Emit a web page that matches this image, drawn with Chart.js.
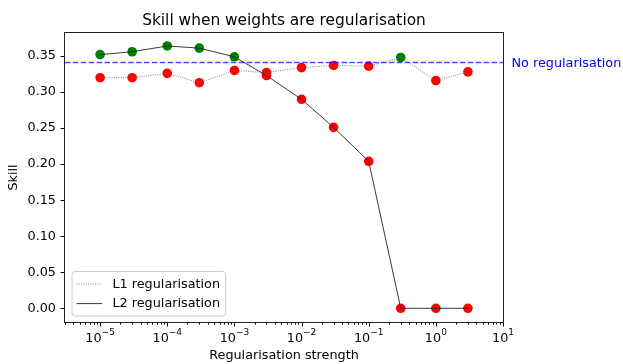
<!DOCTYPE html>
<html>
<head>
<meta charset="utf-8">
<title>Skill when weights are regularisation</title>
<script src="https://cdn.jsdelivr.net/npm/chart.js"></script>
<style>
  body { margin: 0; background: #fff; }
  #wrap { width: 623px; height: 364px; }
</style>
</head>
<body>
<div id="wrap"><canvas id="skillChart" width="623" height="364"></canvas></div>
<script>
// regularisation strengths tried, and the skill scored with each penalty
const strengths = [1e-5, 3e-5, 1e-4, 3e-4, 1e-3, 3e-3, 1e-2, 3e-2, 1e-1, 3e-1, 1, 3];
const l1Skill = [0.320, 0.320, 0.326, 0.313, 0.330, 0.327, 0.334, 0.337, 0.336, 0.348, 0.316, 0.328];
const l2Skill = [0.352, 0.356, 0.364, 0.361, 0.349, 0.323, 0.290, 0.251, 0.204, 0.000, 0.000, 0.000];
const noRegSkill = 0.341;   // skill of the unregularised model
const xRange = [3e-6, 10];
const yTicks = [0, 0.05, 0.10, 0.15, 0.20, 0.25, 0.30, 0.35];
const xTickExponents = [-5, -4, -3, -2, -1, 0, 1];

const FONT = "'DejaVu Sans', sans-serif";
const BASE = 12.8;

const toPoints = ys => strengths.map((x, i) => ({ x: x, y: ys[i] }));
// green when the run beats the unregularised model, red otherwise
const pointColour = ctx => (ctx.raw && ctx.raw.y > noRegSkill) ? '#008000' : '#ff0000';

// frame, tick marks, log labels, title, legend and the baseline label
const decorations = {
  id: 'decorations',
  afterDraw(chart) {
    const ctx = chart.ctx;
    const ca = chart.chartArea;
    const xs = chart.scales.x, ys = chart.scales.y;
    ctx.save();

    // ticks
    ctx.strokeStyle = '#000';
    ctx.lineWidth = 1;
    ctx.beginPath();
    yTicks.forEach(v => {
      const py = Math.round(ys.getPixelForValue(v)) + 0.5;
      ctx.moveTo(ca.left - 4.5, py);
      ctx.lineTo(ca.left, py);
    });
    xTickExponents.forEach(e => {
      const px = Math.round(xs.getPixelForValue(Math.pow(10, e))) + 0.5;
      ctx.moveTo(px, ca.bottom);
      ctx.lineTo(px, ca.bottom + 4.5);
    });
    for (let e = -6; e <= 0; e++) {
      for (let m = 2; m <= 9; m++) {
        const v = m * Math.pow(10, e);
        if (v < xRange[0] || v > xRange[1]) continue;
        const px = Math.round(xs.getPixelForValue(v)) + 0.5;
        ctx.moveTo(px, ca.bottom);
        ctx.lineTo(px, ca.bottom + 2.6);
      }
    }
    ctx.stroke();

    // frame
    ctx.strokeStyle = '#222';
    ctx.strokeRect(Math.round(ca.left) - 0.5, Math.round(ca.top) - 0.5,
                   Math.round(ca.right - ca.left) + 1, Math.round(ca.bottom - ca.top) + 1);

    // x tick labels as 10 with a raised exponent
    ctx.fillStyle = '#000';
    ctx.textBaseline = 'alphabetic';
    ctx.textAlign = 'left';
    xTickExponents.forEach(e => {
      const px = xs.getPixelForValue(Math.pow(10, e));
      const sup = e < 0 ? '\u2212' + (-e) : String(e);
      ctx.font = BASE + 'px ' + FONT;
      const wBase = ctx.measureText('10').width;
      ctx.font = '9px ' + FONT;
      const wSup = ctx.measureText(sup).width;
      const x0 = px - (wBase + wSup) / 2;
      ctx.font = BASE + 'px ' + FONT;
      ctx.fillText('10', x0, 341.5);
      ctx.font = '9px ' + FONT;
      ctx.fillText(sup, x0 + wBase, 335);
    });

    // title
    ctx.font = '15.4px ' + FONT;
    ctx.textAlign = 'center';
    ctx.fillText('Skill when weights are regularisation', (ca.left + ca.right) / 2, 25);

    // label for the dashed reference line
    ctx.font = BASE + 'px ' + FONT;
    ctx.textAlign = 'left';
    ctx.fillStyle = '#0000ff';
    ctx.fillText('No regularisation', ca.right + 8.5, ys.getPixelForValue(noRegSkill) + 4.5);

    // legend, bottom left
    const items = chart.data.datasets.filter(d => d.inLegend);
    ctx.font = BASE + 'px ' + FONT;
    const textW = Math.max(...items.map(d => ctx.measureText(d.label).width));
    const bx = ca.left + 6.5, bw = 5.1 + 25.6 + 10.2 + textW + 5.1;
    const bh = 44.5, by = ca.bottom - 6.5 - bh;
    ctx.beginPath();
    ctx.roundRect(bx + 0.5, by + 0.5, bw, bh, 3);
    ctx.fillStyle = 'rgba(255,255,255,0.8)';
    ctx.fill();
    ctx.strokeStyle = '#cccccc';
    ctx.lineWidth = 1;
    ctx.stroke();
    items.forEach((d, i) => {
      const cy = by + 13 + i * 19.6;
      ctx.beginPath();
      ctx.setLineDash(d.borderDash || []);
      ctx.strokeStyle = d.borderColor;
      ctx.lineWidth = d.borderWidth;
      ctx.moveTo(bx + 5.1, cy);
      ctx.lineTo(bx + 5.1 + 25.6, cy);
      ctx.stroke();
      ctx.setLineDash([]);
      ctx.fillStyle = '#000';
      ctx.textBaseline = 'middle';
      ctx.fillText(d.label, bx + 5.1 + 25.6 + 10.2, cy + 0.5);
    });

    ctx.restore();
  }
};

new Chart(document.getElementById('skillChart'), {
  type: 'line',
  data: {
    datasets: [
      {
        label: 'No regularisation',
        data: [{ x: xRange[0], y: noRegSkill }, { x: xRange[1], y: noRegSkill }],
        borderColor: 'rgba(0,0,255,0.7)',
        borderWidth: 1.5,
        borderDash: [5.5, 2.4],
        pointRadius: 0,
        order: 0
      },
      {
        label: 'L1 regularisation',
        inLegend: true,
        data: toPoints(l1Skill),
        borderColor: '#666',
        borderWidth: 0.8,
        borderDash: [1, 1.3],
        pointRadius: 0,
        order: 1
      },
      {
        label: 'L2 regularisation',
        inLegend: true,
        data: toPoints(l2Skill),
        borderColor: '#222',
        borderWidth: 0.9,
        pointRadius: 0,
        order: 1
      },
      {
        label: 'L1 points',
        data: toPoints(l1Skill),
        showLine: false,
        pointRadius: 4.8,
        pointBorderWidth: 0,
        pointBackgroundColor: pointColour,
        order: 2
      },
      {
        label: 'L2 points',
        data: toPoints(l2Skill),
        showLine: false,
        pointRadius: 4.8,
        pointBorderWidth: 0,
        pointBackgroundColor: pointColour,
        order: 2
      }
    ]
  },
  options: {
    responsive: false,
    animation: false,
    layout: { padding: { top: 33, right: 120, bottom: 0, left: 0 } },
    plugins: {
      legend: { display: false },
      tooltip: { enabled: false }
    },
    scales: {
      x: {
        type: 'logarithmic',
        min: xRange[0],
        max: xRange[1],
        grid: { display: false, drawTicks: false },
        border: { display: false },
        ticks: { display: false },
        title: {
          display: true,
          text: 'Regularisation strength',
          color: '#000',
          font: { size: BASE, family: FONT },
          padding: { top: 0, bottom: 1 }
        },
        afterFit(s) { s.height = 42; }
      },
      y: {
        min: -0.019,
        max: 0.382,
        afterBuildTicks(s) { s.ticks = yTicks.map(v => ({ value: v })); },
        grid: { display: false, drawTicks: false },
        border: { display: false },
        ticks: {
          color: '#000',
          font: { size: BASE, family: FONT },
          padding: 9,
          callback: v => v.toFixed(2)
        },
        title: {
          display: true,
          text: 'Skill',
          color: '#000',
          font: { size: BASE, family: FONT },
          padding: { top: 6, bottom: 0 }
        },
        afterFit(s) { s.width = 65; }
      }
    }
  },
  plugins: [decorations]
});
</script>
</body>
</html>
